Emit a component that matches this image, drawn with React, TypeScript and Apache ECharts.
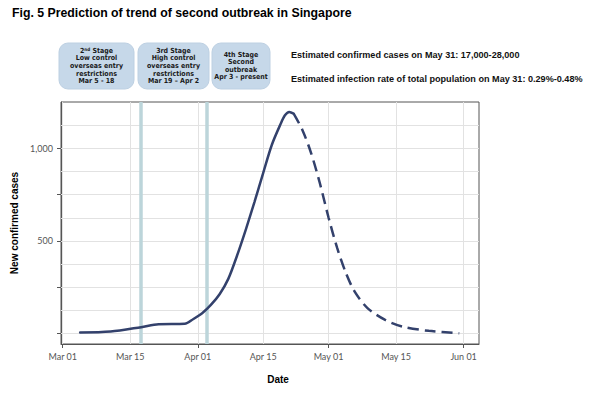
import React, { useEffect, useRef } from 'react';
import * as echarts from 'echarts';

// ---- data ----
const reportedDates = [
  '2020-03-05', '2020-03-12', '2020-03-19', '2020-03-23', '2020-03-29', '2020-03-31',
  '2020-04-02', '2020-04-04', '2020-04-06', '2020-04-08', '2020-04-10', '2020-04-12',
  '2020-04-14', '2020-04-16', '2020-04-18', '2020-04-20', '2020-04-21', '2020-04-22', '2020-04-23',
];
const reportedCases = [5, 10, 34, 50, 52, 78, 109, 154, 212, 295, 420, 560, 710, 867, 1020, 1132, 1179, 1197, 1188];

const predictedDates = [
  '2020-04-23', '2020-04-25', '2020-04-27', '2020-04-29', '2020-05-01', '2020-05-03',
  '2020-05-05', '2020-05-07', '2020-05-10', '2020-05-14', '2020-05-18', '2020-05-24', '2020-05-31',
];
const predictedCases = [1188, 1100, 975, 813, 627, 461, 326, 226, 136, 73, 37, 14, 1];

const monthTickDates = ['2020-03-01', '2020-04-01', '2020-05-01', '2020-06-01'];
const xLabelDates = ['2020-03-01', '2020-03-16 12', '2020-04-01', '2020-04-16', '2020-05-01', '2020-05-16 12', '2020-06-01'];
const xLabels = ['Mar 01', 'Mar 15', 'Apr 01', 'Apr 15', 'May 01', 'May 15', 'Jun 01'];
const yTickValues = [0, 250, 500, 750, 1000];
const yLabelValues = [500, 1000];
const yGridValues = [0, 125, 250, 375, 500, 625, 750, 875, 1000, 1125];
const stageLineDates = ['2020-03-19', '2020-04-03'];

const stageBoxLines = [
  ['Low control', 'overseas entry', 'restrictions', 'Mar 5 - 18'],
  ['High control', 'overseas entry', 'restrictions', 'Mar 19 \u2013 Apr 2'],
  ['Second', 'outbreak', 'Apr 3 - present'],
];
const stageTitles = [['2', 'nd', ' Stage'], ['3rd Stage', '', ''], ['4th Stage', '', '']];

const titleText = 'Fig. 5 Prediction of trend of second outbreak in Singapore';
const notes = [
  'Estimated confirmed cases on May 31: 17,000-28,000',
  'Estimated infection rate of total population on May 31: 0.29%-0.48%',
];

// ---- helpers ----
const DAY = 24 * 3600 * 1000;
const ts = (s: string) => {
  const [d, h] = s.split(' ');
  const [y, m, dd] = d.split('-').map(Number);
  return new Date(y, m - 1, dd, h ? Number(h) : 0).getTime();
};
const xMin = ts('2020-03-01') - 0.39 * DAY;
const xMax = ts('2020-06-01') + 3.53 * DAY;

const App: React.FC = () => {
  const ref = useRef<HTMLDivElement>(null);

  useEffect(() => {
    document.body.style.margin = '0';
    if (!ref.current) return;
    const chart = echarts.init(ref.current, undefined, { renderer: 'svg' });

    const xLabelTs = xLabelDates.map(ts);
    const boxLeft = [59, 138, 212];
    const boxWidth = [75, 71, 58];
    const boxTop = 43;
    const boxH = 46;
    const boxFont = 'Liberation Sans Narrow, DejaVu Sans Condensed, Liberation Sans';

    const boxes = stageBoxLines.map((lines, i) => {
      const t = stageTitles[i];
      const first = t[1] ? `{b|${t[0]}}{sup|${t[1]}}{b|${t[2]}}` : `{b|${t[0]}}`;
      const text = [first, ...lines.map((l) => `{b|${l}}`)].join('\n');
      return {
        type: 'group',
        children: [
          {
            type: 'rect',
            shape: { x: boxLeft[i], y: boxTop, width: boxWidth[i], height: boxH, r: 9 },
            style: { fill: '#c6d8e9', stroke: '#bdd0e2', lineWidth: 1 },
          },
          {
            type: 'text',
            x: boxLeft[i] + boxWidth[i] / 2,
            y: boxTop + boxH / 2,
            style: {
              text,
              align: 'center',
              verticalAlign: 'middle',
              rich: {
                b: { fontSize: 7, lineHeight: 7.6, fontWeight: 'bold', fontFamily: boxFont, fill: '#1a1a1a' },
                sup: { fontSize: 4.6, lineHeight: 7.6, fontWeight: 'bold', verticalAlign: 'top', fontFamily: boxFont, fill: '#1a1a1a' },
              },
            },
          },
        ],
      };
    });

    const option: any = {
      animation: false,
      backgroundColor: '#fff',
      grid: {
        left: 61, top: 102, width: 418, height: 242,
        show: true, borderColor: '#555', borderWidth: 1, backgroundColor: 'transparent',
        containLabel: false, outerBoundsMode: 'none',
      },
      xAxis: {
        type: 'value', min: xMin, max: xMax,
        axisLine: { show: true, onZero: false, lineStyle: { color: '#555', width: 1 } },
        axisTick: { show: true, length: 4, customValues: monthTickDates.map(ts), lineStyle: { color: '#555' } },
        axisLabel: {
          customValues: xLabelTs,
          formatter: (v: number) => { const i = xLabelTs.indexOf(v); return i >= 0 ? xLabels[i] : ''; },
          fontSize: 9, color: '#555', margin: 8, fontFamily: 'Lato, Liberation Sans',
          showMinLabel: true, showMaxLabel: true,
        },
        splitLine: { show: false },
        name: 'Date', nameLocation: 'middle', nameGap: 30,
        nameTextStyle: { fontSize: 10, fontWeight: 'bold', color: '#000', fontFamily: 'Liberation Sans', padding: [0, 0, 0, 16] },
      },
      yAxis: {
        type: 'value', min: -57, max: 1251,
        axisLine: { show: true, onZero: false, lineStyle: { color: '#555', width: 1 } },
        axisTick: { show: true, length: 4, customValues: yTickValues, lineStyle: { color: '#555' } },
        axisLabel: {
          customValues: yLabelValues,
          formatter: (v: number) => v.toLocaleString('en-US'),
          fontSize: 9, color: '#555', margin: 8, fontFamily: 'Lato, Liberation Sans',
        },
        splitLine: { show: false },
        name: 'New confirmed cases', nameLocation: 'middle', nameGap: 42,
        nameTextStyle: { fontSize: 10, fontWeight: 'bold', color: '#000', fontFamily: 'Liberation Sans' },
      },
      series: [
        {
          type: 'line', data: [], z: 1, silent: true,
          markLine: {
            silent: true, z: 1, symbol: ['none', 'none'], label: { show: false },
            lineStyle: { color: '#e2e2e2', width: 1, type: 'solid', opacity: 1 },
            emphasis: { disabled: true },
            data: [
              ...xLabelTs.map((x) => ({ xAxis: x })),
              ...yGridValues.map((y) => ({ yAxis: y })),
            ],
          },
        },
        {
          type: 'line', data: [], z: 2, silent: true,
          markLine: {
            silent: true, z: 2, symbol: ['none', 'none'], label: { show: false },
            lineStyle: { color: '#bcd5da', width: 3.5, type: 'solid', opacity: 1 },
            emphasis: { disabled: true },
            data: stageLineDates.map((d) => ({ xAxis: ts(d) })),
          },
        },
        {
          name: 'Reported', type: 'line', z: 10, smooth: 0.3, symbol: 'none',
          data: reportedDates.map((d, i) => [ts(d), reportedCases[i]]),
          lineStyle: { color: '#33416c', width: 2.5, cap: 'round' },
        },
        {
          name: 'Predicted', type: 'line', z: 10, smooth: 0.3, symbol: 'none',
          data: predictedDates.map((d, i) => [ts(d), predictedCases[i]]),
          lineStyle: { color: '#33416c', width: 2.5, type: [11, 6] },
        },
      ],
      graphic: [
        {
          type: 'text', x: 12, y: 13,
          style: { text: titleText, fontSize: 12.3, fontWeight: 'bold', fontFamily: 'Liberation Sans', fill: '#000', verticalAlign: 'middle' },
        },
        ...notes.map((n, i) => ({
          type: 'text', x: 291, y: 55 + i * 24,
          style: { text: n, fontSize: 9.1, fontWeight: 'bold', fontFamily: 'Liberation Sans', fill: '#111', verticalAlign: 'middle' },
        })),
        ...boxes,
      ],
    };

    chart.setOption(option);
    return () => chart.dispose();
  }, []);

  return <div ref={ref} style={{ width: 600, height: 396 }} />;
};

export default App;
